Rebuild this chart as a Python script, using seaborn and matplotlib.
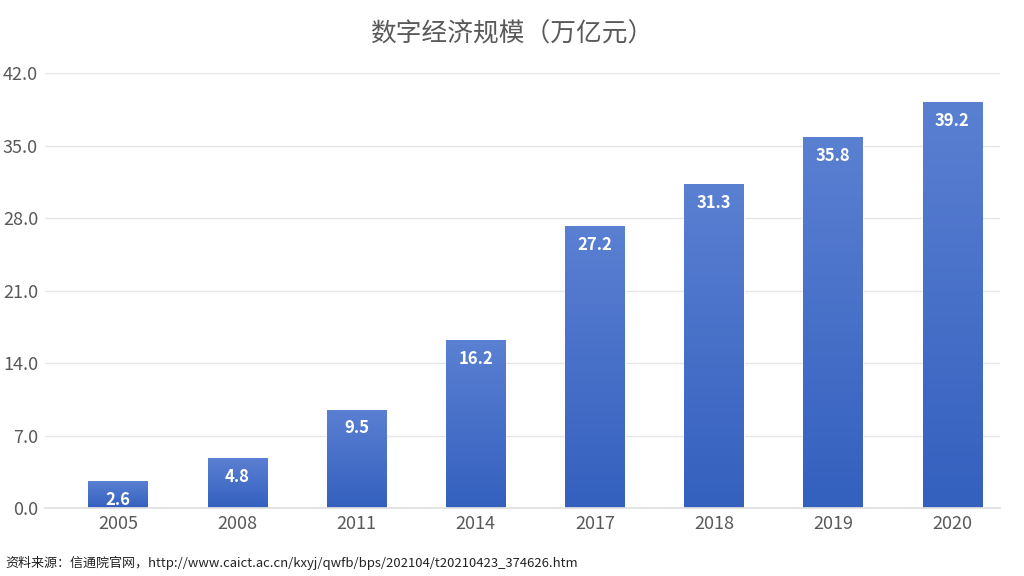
import numpy as np
import pandas as pd
import matplotlib
matplotlib.use("Agg")
import matplotlib.pyplot as plt
import seaborn as sns
from matplotlib.colors import LinearSegmentedColormap

years = ["2005", "2008", "2011", "2014", "2017", "2018", "2019", "2020"]
values = [2.6, 4.8, 9.5, 16.2, 27.2, 31.3, 35.8, 39.2]
yticks = [0.0, 7.0, 14.0, 21.0, 28.0, 35.0, 42.0]
title = "数字经济规模（万亿元）"
source = "资料来源：信通院官网，http://www.caict.ac.cn/kxyj/qwfb/bps/202104/t20210423_374626.htm"

sns.set_theme(style="white")
plt.rcParams['font.family'] = ['Noto Sans CJK SC', 'DejaVu Sans']

df = pd.DataFrame({"year": years, "value": values})

fig = plt.figure(figsize=(10.24, 5.76), dpi=100)
ax = fig.add_axes([0.044, 0.118, 0.933, 0.755])
sns.barplot(data=df, x="year", y="value", ax=ax, color="#4A72C8", width=0.5, saturation=1)

ax.set_ylim(0, 42)
ax.set_yticks(yticks)
ax.set_yticklabels([f"{t:.1f}" for t in yticks])
ax.yaxis.grid(True, color="#E6E6E6", linewidth=1)
ax.set_axisbelow(True)
for s in ax.spines.values():
    s.set_visible(False)
ax.spines['bottom'].set_visible(True)
ax.spines['bottom'].set_color("#E0E0E0")
ax.set_xlabel("")
ax.set_ylabel("")
ax.tick_params(axis="both", colors="#595959", labelsize=13, length=0)
ax.tick_params(axis="y", pad=5)
ax.tick_params(axis="x", pad=5)

cmap = LinearSegmentedColormap.from_list("g", ["#3460BE", "#5A80D2"])
grad = np.linspace(0, 1, 256).reshape(-1, 1)
for p in ax.patches:
    x0, y0 = p.get_x(), p.get_y()
    w, h = p.get_width(), p.get_height()
    im = ax.imshow(grad, cmap=cmap, origin="lower", aspect="auto",
                   extent=[x0, x0 + w, y0, y0 + h], zorder=p.get_zorder() + 0.1)
    im.set_clip_path(p)
    ax.annotate(f"{h:.1f}", (x0 + w / 2, h), xytext=(0, -7), textcoords="offset points",
                ha="center", va="top", color="white", fontsize=12, fontweight="bold",
                zorder=5)
ax.set_xlim(-0.613, 7.403)
ax.set_ylim(0, 42)

fig.text(0.5, 0.94, title, ha="center", va="center", fontsize=18.5, color="#595959")
fig.text(0.005, 0.022, source, ha="left", va="center", fontsize=9.4, color="#222222")

fig.savefig("out.png", dpi=100)
